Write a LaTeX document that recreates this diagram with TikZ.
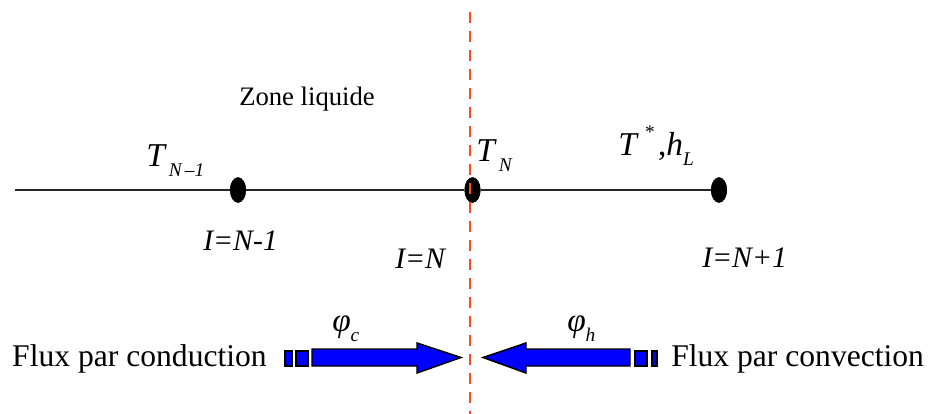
\documentclass[tikz,border=0pt]{standalone}
\usepackage{fontspec}
\setmainfont{Liberation Serif}
\usetikzlibrary{shapes.geometric}
\definecolor{dashred}{HTML}{FF4A1C}
\definecolor{arrowblue}{HTML}{0000FF}
\tikzset{
  px/.style={x=0.75pt,y=-0.75pt},
  dot/.style={ellipse,fill=black,minimum width=12pt,minimum height=19pt,inner sep=0pt},
  lbl/.style={inner sep=0pt,font=\fontsize{20pt}{22pt}\selectfont},
  fluxlbl/.style={inner sep=0pt,font=\fontsize{23.7pt}{26pt}\selectfont},
  ilbl/.style={inner sep=0pt,font=\fontsize{22.3pt}{25pt}\selectfont\itshape},
  tlbl/.style={inner sep=0pt,font=\fontsize{25pt}{28pt}\selectfont\itshape},
  fluxarrow/.style={fill=arrowblue,draw=black,line width=1.1pt,line join=miter},
}
\newcommand{\sbs}[1]{\raisebox{-0.3em}{\fontsize{14.5pt}{15pt}\selectfont #1}}
\newcommand{\sps}[1]{\raisebox{0.5em}{\fontsize{14.5pt}{15pt}\selectfont #1}}
\begin{document}
\begin{tikzpicture}[px]
\useasboundingbox (0,0) rectangle (932,414);
% line and nodes
\coordinate (start) at (15,190);
\node[dot] (d1) at (238,190) {};
\node[dot] (d2) at (472.5,190) {};
\node[dot] (d3) at (719,190) {};
\draw[line width=1.6pt,black!85] (start) -- (d1) -- (d2) -- (d3);
\node[dot] at (238,190) {};
\node[dot] at (719,190) {};
\node[dot] at (472.5,190) {};
% dashed interface
\coordinate (top) at (470,12);
\coordinate (bot) at (470,414);
\draw[dashred,line width=2pt,dash pattern=on 8.25pt off 6pt] (top) -- (bot);
% labels
\node[lbl,anchor=base west] (zone) at (239,105) {Zone liquide};
\node[tlbl,anchor=base west] (tn1) at (146,166) {T\hspace{0.12em}\sbs{N\,\textup{–}1}};
\node[tlbl,anchor=base west] (tn) at (476,161) {T\hspace{0.12em}\sbs{N}};
\node[tlbl,anchor=base west] (ts) at (618,155) {T\hspace{0.25em}\sps{\textup{*}}\hspace{0.1em}\textup{,}h\sbs{L}};
\node[ilbl,anchor=base west] (i1) at (203,250) {I=N-1};
\node[ilbl,anchor=base west] (i2) at (395,268) {I=N};
\node[ilbl,anchor=base west] (i3) at (702,267) {I=N+1};
\node[tlbl,anchor=base west] (phc) at (332,331) {φ\sbs{c}};
\node[tlbl,anchor=base west] (phh) at (567,331) {φ\sbs{h}};
\node[fluxlbl,anchor=base east] (fc) at (267,366) {Flux par conduction};
\node[fluxlbl,anchor=base west] (fv) at (671,366) {Flux par convection};
% left arrow
\draw[fluxarrow] (285,351) rectangle (292,366);
\draw[fluxarrow] (296,351) rectangle (308,366);
\draw[fluxarrow] (312,349) -- (417,349) -- (417,343) -- (461,357.5) -- (417,373) -- (417,366) -- (312,366) -- cycle;
% right arrow
\draw[fluxarrow] (652,351) rectangle (657,366);
\draw[fluxarrow] (635,351) rectangle (647,366);
\draw[fluxarrow] (630,349) -- (526,349) -- (526,343) -- (483,357.5) -- (526,373) -- (526,366) -- (630,366) -- cycle;
\end{tikzpicture}
\end{document}
